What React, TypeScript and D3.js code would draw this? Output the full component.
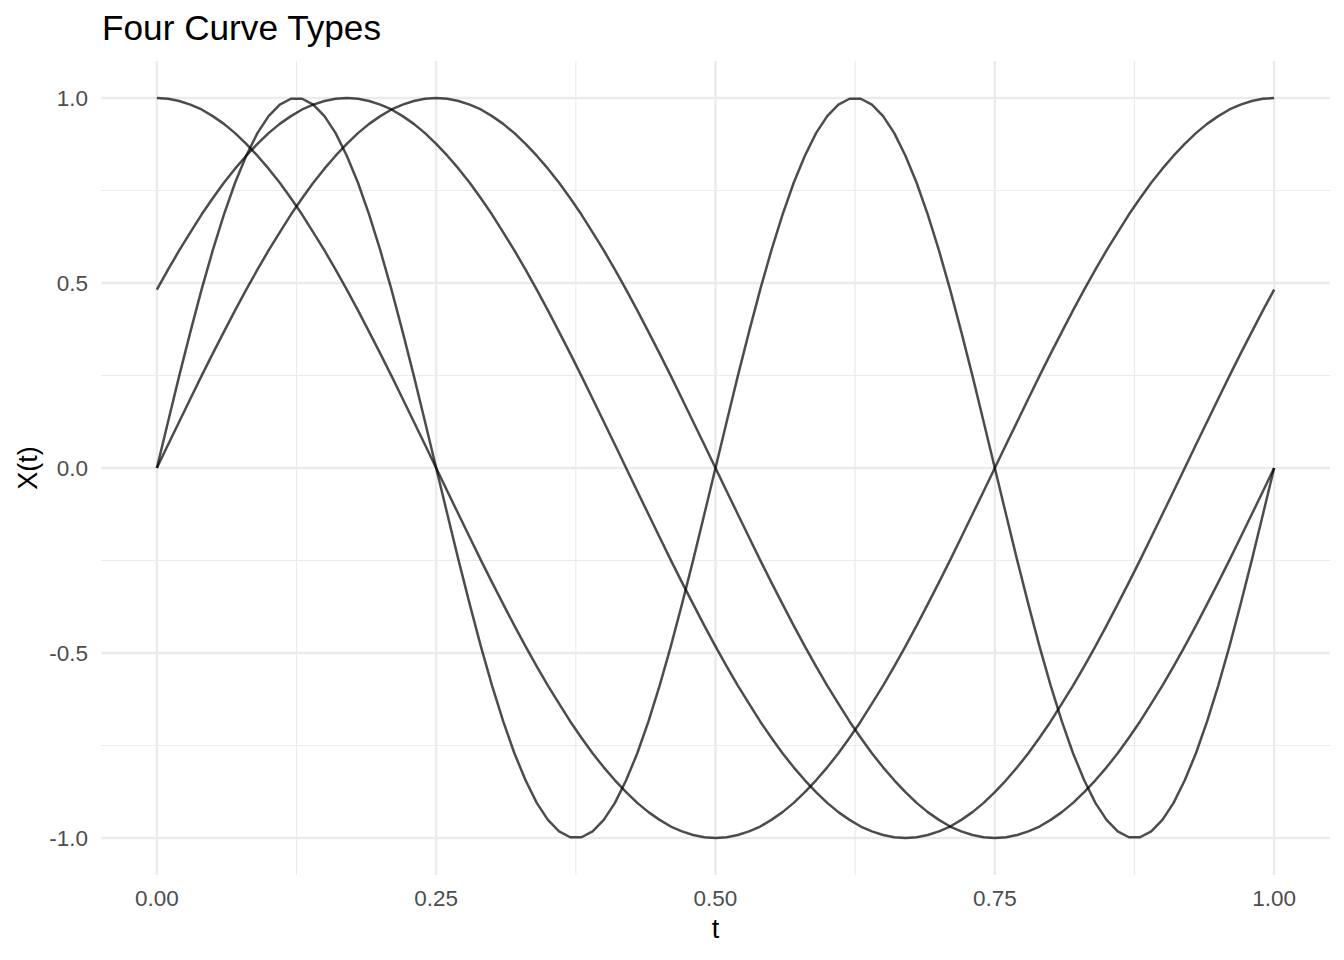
import React from "react";
import * as d3 from "d3";

// t sampled at steps of 0.01 from 0 to 1 (101 points)
const tValues: number[] = Array.from({ length: 101 }, (_, i) => i / 100);

// Curve 1: starts at 1, min at t=0.5, back to 1
const curveCos: number[] = [
  1, .998, .992, .982, .969, .951, .930, .905, .876, .844, .809, .771, .729, .685, .637, .588, .536, .482, .426, .368, .309, .249, .187, .125, .063, 0,
  -.063, -.125, -.187, -.249, -.309, -.368, -.426, -.482, -.536, -.588, -.637, -.685, -.729, -.771, -.809, -.844, -.876, -.905, -.930, -.951, -.969, -.982, -.992, -.998, -1,
  -.998, -.992, -.982, -.969, -.951, -.930, -.905, -.876, -.844, -.809, -.771, -.729, -.685, -.637, -.588, -.536, -.482, -.426, -.368, -.309, -.249, -.187, -.125, -.063, 0,
  .063, .125, .187, .249, .309, .368, .426, .482, .536, .588, .637, .685, .729, .771, .809, .844, .876, .905, .930, .951, .969, .982, .992, .998, 1,
];

// Curve 2: starts at 0, peak at 0.25, min at 0.75
const curveSin: number[] = [
  0, .063, .125, .187, .249, .309, .368, .426, .482, .536, .588, .637, .685, .729, .771, .809, .844, .876, .905, .930, .951, .969, .982, .992, .998, 1,
  .998, .992, .982, .969, .951, .930, .905, .876, .844, .809, .771, .729, .685, .637, .588, .536, .482, .426, .368, .309, .249, .187, .125, .063, 0,
  -.063, -.125, -.187, -.249, -.309, -.368, -.426, -.482, -.536, -.588, -.637, -.685, -.729, -.771, -.809, -.844, -.876, -.905, -.930, -.951, -.969, -.982, -.992, -.998, -1,
  -.998, -.992, -.982, -.969, -.951, -.930, -.905, -.876, -.844, -.809, -.771, -.729, -.685, -.637, -.588, -.536, -.482, -.426, -.368, -.309, -.249, -.187, -.125, -.063, 0,
];

// Curve 3: double frequency, peaks at 0.125 and 0.625
const curveFast: number[] = [
  0, .125, .249, .368, .482, .588, .685, .771, .844, .905, .951, .982, .998, .998, .982, .951, .905, .844, .771, .685, .588, .482, .368, .249, .125, 0,
  -.125, -.249, -.368, -.482, -.588, -.685, -.771, -.844, -.905, -.951, -.982, -.998, -.998, -.982, -.951, -.905, -.844, -.771, -.685, -.588, -.482, -.368, -.249, -.125, 0,
  .125, .249, .368, .482, .588, .685, .771, .844, .905, .951, .982, .998, .998, .982, .951, .905, .844, .771, .685, .588, .482, .368, .249, .125, 0,
  -.125, -.249, -.368, -.482, -.588, -.685, -.771, -.844, -.905, -.951, -.982, -.998, -.998, -.982, -.951, -.905, -.844, -.771, -.685, -.588, -.482, -.368, -.249, -.125, 0,
];

// Curve 4: shifted, starts at 0.48, peak near 0.17, min near 0.67
const curveShift: number[] = [
  .482, .536, .588, .637, .685, .729, .771, .809, .844, .876, .905, .930, .951, .969, .982, .992, .998, 1,
  .998, .992, .982, .969, .951, .930, .905, .876, .844, .809, .771, .729, .685, .637, .588, .536, .482, .426, .368, .309, .249, .187, .125, .063, 0,
  -.063, -.125, -.187, -.249, -.309, -.368, -.426, -.482, -.536, -.588, -.637, -.685, -.729, -.771, -.809, -.844, -.876, -.905, -.930, -.951, -.969, -.982, -.992, -.998, -1,
  -.998, -.992, -.982, -.969, -.951, -.930, -.905, -.876, -.844, -.809, -.771, -.729, -.685, -.637, -.588, -.536, -.482, -.426, -.368, -.309, -.249, -.187, -.125, -.063, 0,
  .063, .125, .187, .249, .309, .368, .426, .482,
];

const seriesList: number[][] = [curveCos, curveSin, curveFast, curveShift];

const xMajorTicks: number[] = [0, 0.25, 0.5, 0.75, 1];
const xMinorTicks: number[] = [0.125, 0.375, 0.625, 0.875];
const yMajorTicks: number[] = [-1, -0.5, 0, 0.5, 1];
const yMinorTicks: number[] = [-0.75, -0.25, 0.25, 0.75];

const titleText = "Four Curve Types";
const xTitle = "t";
const yTitle = "X(t)";

const W = 1344;
const H = 960;
const panel = { left: 101, right: 1330, top: 61, bottom: 875 };
const FONT = "'Liberation Sans', Arial, Helvetica, sans-serif";

export default function App() {
  const xExp = (panel.right - panel.left) / 1.1 * 0.05;
  const yExp = (panel.bottom - panel.top) / 1.1 * 0.05;
  const x = d3.scaleLinear().domain([0, 1]).range([panel.left + xExp, panel.right - xExp]);
  const y = d3.scaleLinear().domain([-1, 1]).range([panel.bottom - yExp, panel.top + yExp]);

  const line = d3
    .line<number>()
    .x((_, i) => x(tValues[i]))
    .y((d) => y(d));

  return (
    <svg width={W} height={H} style={{ display: "block", position: "absolute", left: 0, top: 0 }}>
      <rect x={0} y={0} width={W} height={H} fill="#ffffff" />
      {/* minor grid */}
      {xMinorTicks.map((t) => (
        <line key={"xm" + t} x1={x(t)} x2={x(t)} y1={panel.top} y2={panel.bottom} stroke="#EBEBEB" strokeWidth={1.2} />
      ))}
      {yMinorTicks.map((t) => (
        <line key={"ym" + t} y1={y(t)} y2={y(t)} x1={panel.left} x2={panel.right} stroke="#EBEBEB" strokeWidth={1.2} />
      ))}
      {/* major grid */}
      {xMajorTicks.map((t) => (
        <line key={"xM" + t} x1={x(t)} x2={x(t)} y1={panel.top} y2={panel.bottom} stroke="#EBEBEB" strokeWidth={2.4} />
      ))}
      {yMajorTicks.map((t) => (
        <line key={"yM" + t} y1={y(t)} y2={y(t)} x1={panel.left} x2={panel.right} stroke="#EBEBEB" strokeWidth={2.4} />
      ))}
      {/* curves */}
      {seriesList.map((s, i) => (
        <path
          key={"s" + i}
          d={line(s) || ""}
          fill="none"
          stroke="#000000"
          strokeOpacity={0.7}
          strokeWidth={2.5}
          strokeLinejoin="round"
        />
      ))}
      {/* tick labels */}
      {xMajorTicks.map((t) => (
        <text
          key={"xl" + t}
          x={x(t)}
          y={906}
          textAnchor="middle"
          fontFamily={FONT}
          fontSize={22.5}
          fill="#4D4D4D"
        >
          {t.toFixed(2)}
        </text>
      ))}
      {yMajorTicks.map((t) => (
        <text
          key={"yl" + t}
          x={88}
          y={y(t)}
          dy="0.35em"
          textAnchor="end"
          fontFamily={FONT}
          fontSize={22.5}
          fill="#4D4D4D"
        >
          {t.toFixed(1)}
        </text>
      ))}
      {/* axis titles */}
      <text x={(panel.left + panel.right) / 2} y={938} textAnchor="middle" fontFamily={FONT} fontSize={27} fill="#000">
        {xTitle}
      </text>
      <text
        transform={`translate(37, ${(panel.top + panel.bottom) / 2}) rotate(-90)`}
        textAnchor="middle"
        fontFamily={FONT}
        fontSize={27}
        fill="#000"
      >
        {yTitle}
      </text>
      {/* title */}
      <text x={102} y={40} fontFamily={FONT} fontSize={35.2} fill="#000">
        {titleText}
      </text>
    </svg>
  );
}
